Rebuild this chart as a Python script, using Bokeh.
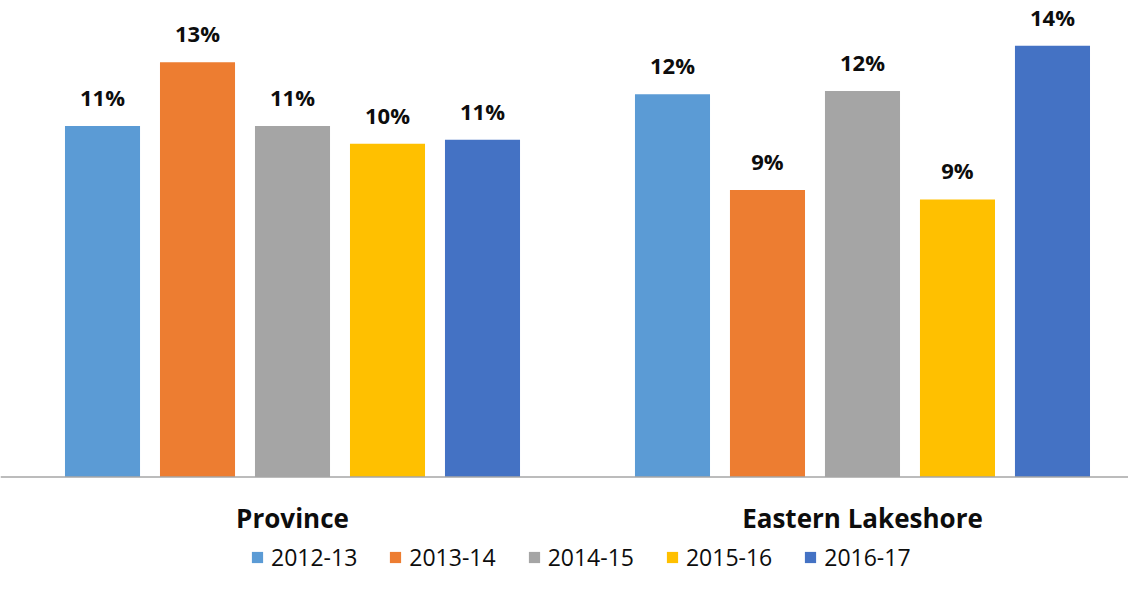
from bokeh.plotting import figure
from bokeh.models import ColumnDataSource, Range1d, Span, Legend, LegendItem
from bokeh.core.properties import value
from bokeh.embed import file_html
from bokeh.resources import INLINE

# ---- data ----
groups = ["Province", "Eastern Lakeshore"]
seasons = ["2012-13", "2013-14", "2014-15", "2015-16", "2016-17"]
province = [11.0, 13.0, 11.0, 10.45, 10.57]
eastern_lakeshore = [12.0, 9.0, 12.1, 8.7, 13.52]
colors = ["#5B9BD5", "#ED7D31", "#A5A5A5", "#FFC000", "#4472C4"]

FONT = value("Open Sans")

p = figure(width=1128, height=573, output_backend="svg", toolbar_location=None,
           x_range=Range1d(-0.5123, 1.4667), y_range=Range1d(-3.025, 14.937),
           x_axis_location=None, y_axis_location=None, min_border=0)
p.grid.visible = False
p.outline_line_color = None
p.background_fill_color = "white"
p.border_fill_color = "white"

group_x = list(range(len(groups)))
n = len(seasons)
items = []
for i, s in enumerate(seasons):
    vals = [province[i], eastern_lakeshore[i]]
    src = ColumnDataSource(dict(
        x=[g + (i - (n - 1) / 2) / 6 for g in group_x],
        top=vals,
        label=[f"{v:.0f}%" for v in vals],
    ))
    r = p.vbar(x="x", top="top", width=0.79 / 6, source=src,
               fill_color=colors[i], line_color=None)
    p.text(x="x", y="top", text="label", source=src, text_align="center",
           text_baseline="alphabetic", y_offset=-29, text_font=FONT,
           text_font_style="bold", text_font_size="22px", text_color="#0D0D0D")
    items.append(LegendItem(label=s, renderers=[r]))

p.add_layout(Span(location=0, dimension="width", line_color="#A6A6A6", line_width=1.5))

p.text(x=group_x, y=[0] * len(groups), text=groups, text_align="center",
       text_baseline="alphabetic", y_offset=41, text_font=FONT,
       text_font_style="bold", text_font_size="26px", text_color="#0D0D0D")

legend = Legend(items=items, orientation="horizontal", location=(250, 0),
                padding=0, margin=0, spacing=31, label_standoff=7,
                glyph_width=14, glyph_height=14, label_height=14,
                label_text_font="Open Sans", label_text_font_size="23px",
                label_text_line_height=1.0,
                label_text_color="#0D0D0D",
                border_line_alpha=0, background_fill_alpha=0)
p.add_layout(legend)

open("out.html", "w").write(file_html(p, INLINE))
